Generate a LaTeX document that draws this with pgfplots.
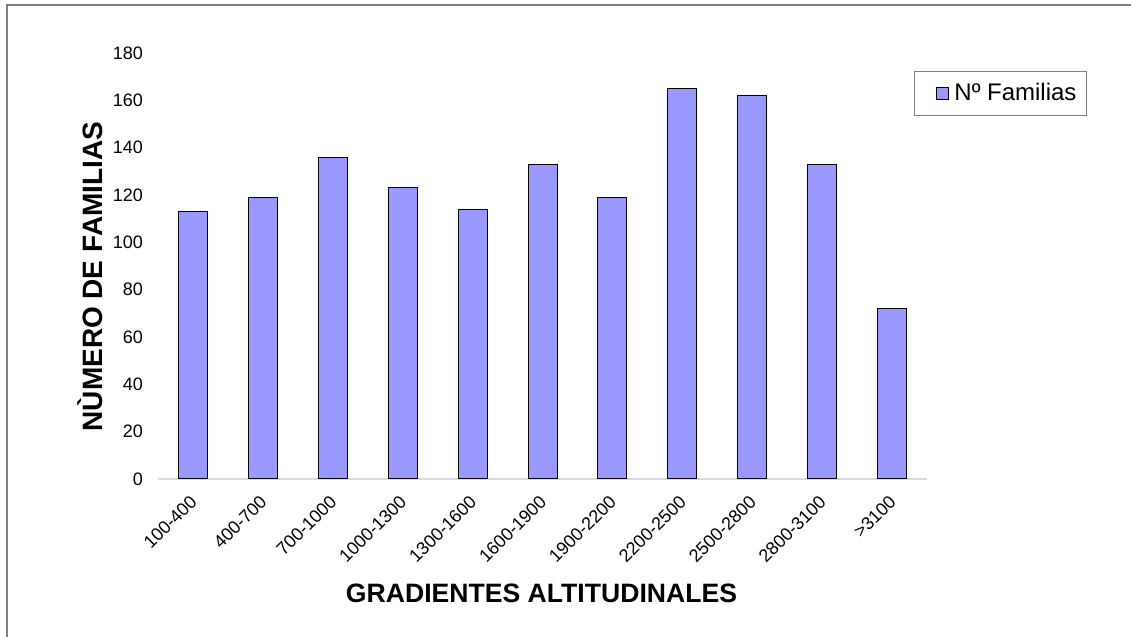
\documentclass[border=0pt]{standalone}
\usepackage{pgfplots}
\pgfplotsset{compat=1.18}
\usepackage{fontspec}
\setmainfont{Liberation Sans}
\definecolor{barfill}{HTML}{9999FF}
\definecolor{framegray}{HTML}{7F7F7F}
\begin{document}
\begin{tikzpicture}[x=0.5pt,y=0.5pt]
\useasboundingbox (0,0) rectangle (1131,637);
\fill[white] (0,0) rectangle (1131,637);
\draw[framegray, line width=1pt] (7,-10) -- (7,631.5) -- (1140,631.5);
\begin{axis}[
  at={(79pt,79pt)}, anchor=south west,
  scale only axis, width=384.5pt, height=213pt,
  xmin=-0.5, xmax=10.5, ymin=0, ymax=180,
  ytick={0,20,...,180},
  xtick={0,...,10},
  xticklabels={100-400,400-700,700-1000,1000-1300,1300-1600,1600-1900,1900-2200,2200-2500,2500-2800,2800-3100,>3100},
  /pgf/number format/assume math mode=true,
  axis line style={draw=none},
  axis x line*=bottom, axis y line*=left,
  major tick length=0pt,
  tick style={draw=none},
  ticklabel style={font=\fontsize{9}{10}\selectfont},
  yticklabel style={xshift=-4pt},
  xticklabel style={xshift=-2pt, yshift=-7.3pt, rotate=45, anchor=north east, inner sep=0pt},
  xlabel={GRADIENTES ALTITUDINALES},
  ylabel={NÙMERO DE FAMILIAS},
  xlabel style={font=\bfseries\fontsize{13.3}{15}\selectfont, at={(axis description cs:0.4987,-0.2676)}, anchor=center},
  ylabel style={font=\bfseries\fontsize{14}{16}\selectfont, at={(axis description cs:-0.0884,0.475)}, anchor=center, rotate=0},
  legend style={at={(axis description cs:0.983,0.958)}, anchor=north west,
    draw=framegray, line width=0.6pt, font=\fontsize{12}{14}\selectfont,
    inner xsep=3pt, inner ysep=4pt},
  legend cell align=left,
  legend image code/.code={\path (0pt,0pt); \draw[#1, line width=0.4pt] (7.5pt,-3pt) rectangle (13.5pt,3pt);},
  clip=false,
]
\draw[black!15, line width=1pt] (axis cs:-0.5,0) -- (axis cs:10.5,0);
\addplot[ybar, bar width=14.5pt, fill=barfill, draw=black, line width=0.5pt] coordinates {
(0,113) (1,119) (2,136) (3,123) (4,114) (5,133) (6,119) (7,165) (8,162) (9,133) (10,72)};
\addlegendentry{\hspace{1pt}N\textordmasculine\ Familias\hspace{3pt}}
\end{axis}
\end{tikzpicture}
\end{document}
